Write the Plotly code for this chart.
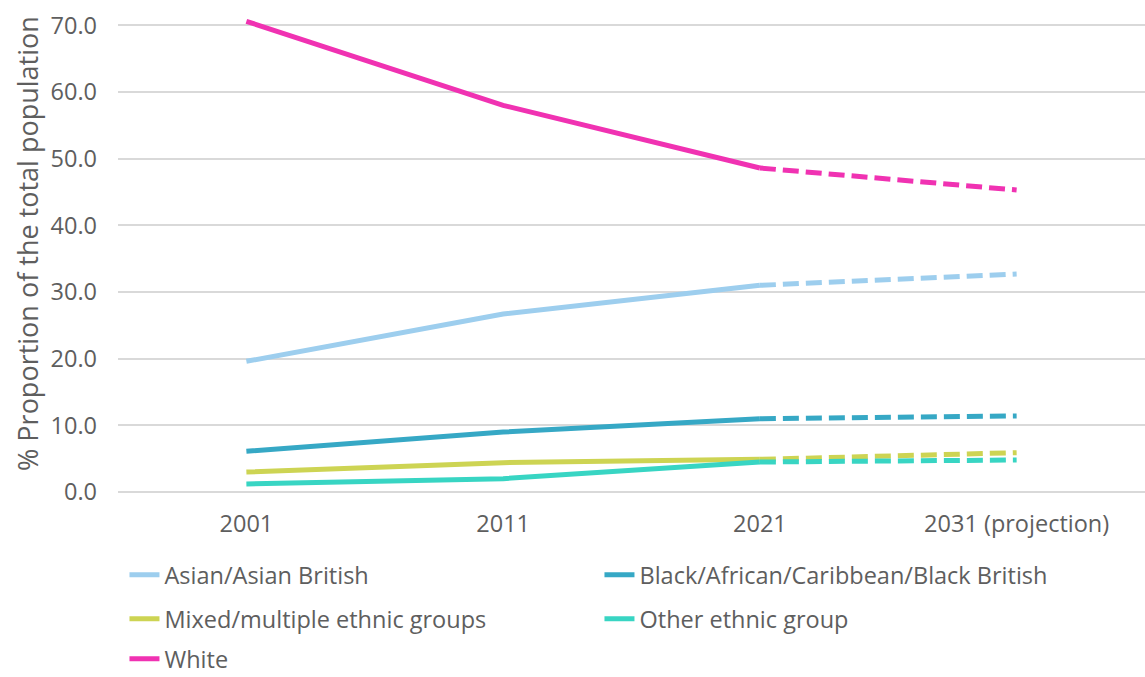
import plotly.graph_objects as go

years = ["2001", "2011", "2021", "2031 (projection)"]
series_names = [
    "Asian/Asian British",
    "Black/African/Caribbean/Black British",
    "Mixed/multiple ethnic groups",
    "Other ethnic group",
    "White",
]
asian = [19.6, 26.7, 31.0, 32.7]
black = [6.1, 9.0, 11.0, 11.4]
mixed = [3.0, 4.4, 4.9, 5.9]
other = [1.2, 2.0, 4.5, 4.8]
white = [70.6, 58.0, 48.6, 45.3]

values = [asian, black, mixed, other, white]
colors = ["#9DCEEE", "#36A8C5", "#CDD453", "#38D5C3", "#F032B2"]
legend_ids = ["legend", "legend", "legend2", "legend2", "legend3"]

FONT = "Open Sans"
TXT = "#5E5E5E"
FS = 23.5

fig = go.Figure()
for name, vals, col, lg in zip(series_names, values, colors, legend_ids):
    fig.add_trace(go.Scatter(
        x=years[:3], y=vals[:3], mode="lines", name=name,
        line=dict(color=col, width=5), legend=lg, hoverinfo="skip"))
for name, vals, col, lg in zip(series_names, values, colors, legend_ids):
    fig.add_trace(go.Scatter(
        x=years[2:], y=vals[2:], mode="lines", name=name + " (projection)",
        line=dict(color=col, width=5, dash="16px,7px"), showlegend=False,
        legend=lg, hoverinfo="skip"))

leg_common = dict(
    orientation="h", xanchor="left", yanchor="middle",
    xref="paper", yref="container",
    font=dict(family=FONT, size=FS, color=TXT),
    bgcolor="rgba(0,0,0,0)", entrywidth=430, entrywidthmode="pixels",
    tracegroupgap=0, itemwidth=30,
)

fig.update_layout(
    width=1145, height=677,
    margin=dict(l=118, r=0, t=12, b=183),
    paper_bgcolor="white", plot_bgcolor="white",
    font=dict(family=FONT, color=TXT, size=FS),
    showlegend=True,
    legend=dict(x=0.0063, y=1 - 575 / 677, **leg_common),
    legend2=dict(x=0.0063, y=1 - 619 / 677, **leg_common),
    legend3=dict(x=0.0063, y=1 - 659 / 677, **leg_common),
    xaxis=dict(
        type="category", range=[-0.5, 3.5], showgrid=False, zeroline=False,
        showline=False, ticks="", automargin=False, ticklabelstandoff=13,
        tickfont=dict(family=FONT, size=FS, color=TXT),
    ),
    yaxis=dict(
        range=[-0.3, 72], dtick=10, tick0=0, tickformat=".1f",
        showgrid=True, gridcolor="#D9D9D9", gridwidth=1.5, zeroline=False,
        showline=False, ticks="", automargin=False, ticklabelstandoff=20,
        tickfont=dict(family=FONT, size=FS, color=TXT),
    ),
    annotations=[dict(
        text="% Proportion of the total population", textangle=-90,
        xref="paper", yref="paper", x=-0.0875, y=0.519,
        xanchor="center", yanchor="middle", showarrow=False,
        font=dict(family=FONT, size=27, color=TXT),
    )],
)

fig.write_html(
    "out.html",
    config={"displayModeBar": False},
    post_script="document.body.style.margin='0';document.body.style.overflow='hidden';",
)
